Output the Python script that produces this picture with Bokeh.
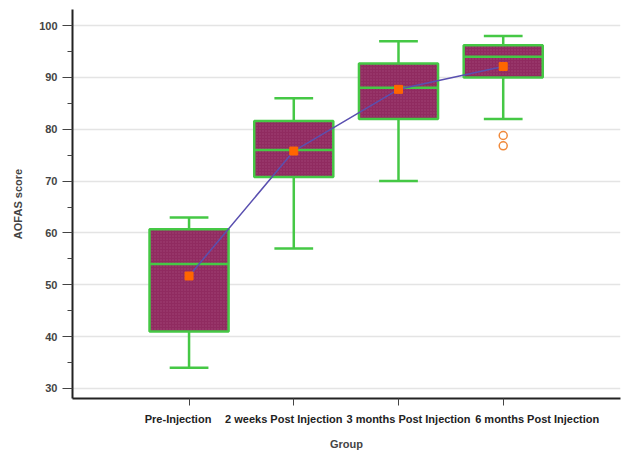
from bokeh.plotting import figure
from bokeh.models import (FixedTicker, Range1d, ColumnDataSource, LinearAxis,
                          CustomJSTickFormatter, CustomLabelingPolicy)
from bokeh.embed import file_html
from bokeh.resources import INLINE

groups = ["Pre-Injection", "2 weeks Post Injection", "3 months Post Injection", "6 months Post Injection"]
pos = [1, 2, 3, 4]
q1 = [41, 70.8, 82, 90]
q3 = [60.7, 81.6, 92.7, 96.2]
median = [54, 76, 88, 94]
whisk_low = [34, 57, 70, 82]
whisk_high = [63, 86, 97, 98]
means = [51.7, 75.8, 87.7, 92.1]
outlier_x = [4, 4]
outlier_y = [78.8, 76.8]

box_w = 0.755
cap_w = 0.37
label_shift_px = [-11, -10, 10, 34]
x_start, x_end = -0.113, 5.12

W, H = 628, 455
BL, BR, BT, BB = 72, 8, 9, 57

p = figure(width=W, height=H, output_backend="svg", toolbar_location=None,
           x_range=Range1d(x_start, x_end), y_range=Range1d(28.07, 103.1),
           min_border_left=BL, min_border_right=BR, min_border_top=BT, min_border_bottom=BB)
p.outline_line_color = None
p.background_fill_color = "white"
p.border_fill_color = "white"

src = ColumnDataSource(dict(x=pos, q1=q1, q3=q3, med=median, lo=whisk_low, hi=whisk_high,
                            mean=means,
                            xl=[v - box_w / 2 for v in pos], xr=[v + box_w / 2 for v in pos],
                            cl=[v - cap_w / 2 for v in pos], cr=[v + cap_w / 2 for v in pos]))

green = "#45c845"
# whiskers
p.segment(x0="x", y0="q3", x1="x", y1="hi", source=src, line_color=green, line_width=2.5)
p.segment(x0="x", y0="q1", x1="x", y1="lo", source=src, line_color=green, line_width=2.5)
p.segment(x0="cl", y0="hi", x1="cr", y1="hi", source=src, line_color=green, line_width=2.5)
p.segment(x0="cl", y0="lo", x1="cr", y1="lo", source=src, line_color=green, line_width=2.5)
# boxes
p.vbar(x="x", width=box_w, bottom="q1", top="q3", source=src,
       fill_color="#902b60", hatch_pattern="dot", hatch_color="#c070a0", hatch_scale=3,
       hatch_weight=1, hatch_alpha=0.35, line_color=green, line_width=2.5)
# medians
p.segment(x0="xl", y0="med", x1="xr", y1="med", source=src, line_color=green, line_width=2.5)
# mean line
p.line(x="x", y="mean", source=src, line_color="#5a50b0", line_width=1.5)
p.scatter(x="x", y="mean", source=src, marker="square", size=8, fill_color="#ff6600",
          line_color="#ff6600")
# outliers
p.scatter(x=outlier_x, y=outlier_y, marker="circle", size=8, fill_color=None,
          line_color="#f08a3c", line_width=1.5)

# grid
p.xgrid.grid_line_color = None
p.ygrid.grid_line_color = "#e4e4e4"
p.ygrid.grid_line_width = 1.5
p.ygrid.ticker = FixedTicker(ticks=[30, 40, 50, 60, 70, 80, 90, 100])

font = "Liberation Sans"
# y axis
ya = p.yaxis[0]
ya.ticker = FixedTicker(ticks=[30, 40, 50, 60, 70, 80, 90, 100],
                        minor_ticks=[35, 45, 55, 65, 75, 85, 95])
ya.axis_label = "AOFAS score"
ya.axis_label_text_font = font
ya.axis_label_text_font_style = "bold"
ya.axis_label_text_font_size = "11px"
ya.axis_label_standoff = 12
ya.major_label_text_font = font
ya.major_label_text_font_style = "bold"
ya.major_label_text_font_size = "11px"
ya.major_label_standoff = 5
ya.major_tick_out = 10
ya.major_tick_in = 0
ya.minor_tick_out = 5
ya.minor_tick_in = 0
ya.axis_line_width = 2
ya.axis_line_color = "#222222"
ya.major_tick_line_color = "#444444"
ya.minor_tick_line_color = "#444444"

# main x axis: line and ticks only (no labels drawn)
xa = p.xaxis[0]
xa.ticker = FixedTicker(ticks=pos)
xa.formatter = CustomJSTickFormatter(code="return '';")
xa.major_label_policy = CustomLabelingPolicy(code="""
try { for (let i = 0; i < indices.size; i++) { indices.unset(i); } } catch (e) {}
return indices;
""")
xa.major_label_standoff = 0
xa.major_tick_out = 7
xa.major_tick_in = 0
xa.minor_tick_line_color = None
xa.axis_line_width = 2
xa.axis_line_color = "#222222"
xa.major_tick_line_color = "#444444"

# label axis: group names laid out as in the original (shifted so they do not overlap)
px_per_unit = (W - BL - BR) / (x_end - x_start)
label_ticks = [v + s / px_per_unit for v, s in zip(pos, label_shift_px)]
la = LinearAxis(ticker=FixedTicker(ticks=label_ticks),
                formatter=CustomJSTickFormatter(args=dict(labels=groups),
                                                code="return labels[index];"))
la.axis_line_color = None
la.major_tick_line_color = None
la.minor_tick_line_color = None
la.major_label_text_font = font
la.major_label_text_font_style = "bold"
la.major_label_text_font_size = "11px"
la.major_label_text_color = "#222222"
la.major_label_standoff = 1
la.axis_label = "Group"
la.axis_label_text_font = font
la.axis_label_text_font_style = "bold"
la.axis_label_text_font_size = "11px"
la.axis_label_standoff = 10
p.add_layout(la, "below")

open("out.html", "w").write(file_html(p, INLINE))
